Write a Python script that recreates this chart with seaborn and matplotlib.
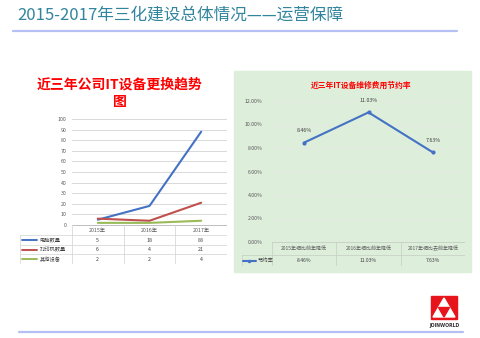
import numpy as np
import pandas as pd
import matplotlib
matplotlib.use("Agg")
import matplotlib.pyplot as plt
import matplotlib.patches as mpatches
import seaborn as sns

# ---- data ----
years = ['2015年', '2016年', '2017年']
series_names = ['电脑数量', '打印机数量', '其他设备']
pc_counts = [5, 18, 88]
printer_counts = [6, 4, 21]
other_counts = [2, 2, 4]
left_yticks = [0, 10, 20, 30, 40, 50, 60, 70, 80, 90, 100]

saving_labels = ['2015年相比前年降低', '2016年相比前年降低', '2017年相比去前年降低']
saving_rates = [0.0846, 0.1103, 0.0763]
saving_name = '节约率'
right_yticks = [0, 0.02, 0.04, 0.06, 0.08, 0.10, 0.12]

page_title = '2015-2017年三化建设总体情况——运营保障'
left_title = '近三年公司IT设备更换趋势\n图'
right_title = '近三年IT设备维修费用节约率'

sns.set_theme(style='white')
plt.rcParams['font.family'] = ['Noto Sans CJK SC', 'DejaVu Sans']

W, H = 480, 338
fig = plt.figure(figsize=(W / 100, H / 100), dpi=100)
fig.patch.set_facecolor('white')


def px(x0, y0, x1, y1):
    # pixel box (top-left origin) -> figure fraction rect
    return [x0 / W, 1 - y1 / H, (x1 - x0) / W, (y1 - y0) / H]


def fx(x):
    return x / W


def fy(y):
    return 1 - y / H


grid_c = '#d9d9d9'
tick_c = '#595959'
colors = ['#4472C4', '#C0504D', '#9BBB59']

# ---- page decorations ----
fig.text(fx(17), fy(15), page_title, fontsize=12, color='#31859C', va='center', ha='left')
fig.add_artist(plt.Line2D([fx(13), fx(457)], [fy(31), fy(31)], color='#b4c0f4', lw=1.6))
fig.add_artist(plt.Line2D([fx(19), fx(463)], [fy(332), fy(332)], color='#b4c0f4', lw=1.6))

# logo
fig.add_artist(mpatches.Rectangle((fx(431), fy(319)), fx(26), 23 / H, color='#e8141b'))
fig.add_artist(mpatches.Polygon([(fx(433), fy(317)), (fx(455), fy(317)), (fx(444), fy(298))],
                                color='white'))
fig.add_artist(mpatches.Polygon([(fx(438.5), fy(307.5)), (fx(449.5), fy(307.5)), (fx(444), fy(317))],
                                color='#e8141b'))
fig.text(fx(444), fy(326), 'JOINWORLD', fontsize=3.3, fontweight='bold', color='#333333',
         ha='center', va='center', family='DejaVu Sans')

# ---- left chart ----
df_left = pd.DataFrame({
    'pos': list(range(len(years))) * 3,
    'value': pc_counts + printer_counts + other_counts,
    'series': [s for s in series_names for _ in years],
})

fig.text(fx(120), fy(93), left_title, fontsize=10, fontweight='bold', color='#ff0000',
         ha='center', va='center', linespacing=1.3)

ax1 = fig.add_axes(px(72, 119, 227, 225))
sns.lineplot(data=df_left, x='pos', y='value', hue='series', hue_order=series_names,
             palette=colors, linewidth=1.5, legend=False, ax=ax1)
ax1.set_xlim(-0.5, len(years) - 0.5)
ax1.set_ylim(0, 100)
ax1.set_yticks(left_yticks)
ax1.set_yticklabels([str(v) for v in left_yticks], fontsize=3.8, color=tick_c)
ax1.set_xticks([])
ax1.tick_params(axis='y', length=0, pad=4)
ax1.grid(axis='y', color=grid_c, lw=0.7)
ax1.set_axisbelow(True)
ax1.set_xlabel('')
ax1.set_ylabel('')
for s in ax1.spines.values():
    s.set_visible(False)
ax1.set_facecolor('none')

# data table under left chart
tb1 = fig.add_axes(px(20, 225, 227, 264))
tb1.set_xlim(-1.5, len(years) - 0.5)
tb1.set_ylim(264, 225)
tb1.axis('off')
rows1 = [225, 235.5, 245, 254.5, 264]
tb1.plot([-0.5, 2.5], [rows1[0]] * 2, color='#bfbfbf', lw=0.7)
for r in rows1[1:]:
    tb1.plot([-1.5, 2.5], [r, r], color=grid_c, lw=0.6)
for c in [-0.5, 0.5, 1.5, 2.5]:
    tb1.plot([c, c], [rows1[0], rows1[-1]], color=grid_c, lw=0.6)
tb1.plot([-1.5, -1.5], [rows1[1], rows1[-1]], color=grid_c, lw=0.6)
for i, y in enumerate(years):
    tb1.text(i, (rows1[0] + rows1[1]) / 2, y, fontsize=3.8, color=tick_c, ha='center', va='center')
for k, (name, vals) in enumerate(zip(series_names, [pc_counts, printer_counts, other_counts])):
    yc = (rows1[k + 1] + rows1[k + 2]) / 2
    tb1.plot([-1.46, -1.17], [yc, yc], color=colors[k], lw=1.4)
    tb1.text(-1.12, yc, name, fontsize=3.8, color='#404040', ha='left', va='center')
    for i, v in enumerate(vals):
        tb1.text(i, yc, str(v), fontsize=3.8, color='#404040', ha='center', va='center')

# ---- right chart ----
fig.add_artist(mpatches.Rectangle((fx(234), fy(272)), fx(237), (272 - 71) / H,
                                  color='#ddeedb', zorder=0))
fig.text(fx(361), fy(85), right_title, fontsize=5.6, fontweight='bold', color='#ff0000',
         ha='center', va='center')

df_right = pd.DataFrame({'pos': list(range(len(saving_labels))), 'rate': saving_rates})
ax2 = fig.add_axes(px(272, 101, 465, 242))
sns.lineplot(data=df_right, x='pos', y='rate', color='#4472C4', linewidth=1.5,
             marker='o', markersize=3, markeredgewidth=0, ax=ax2)
for i, v in enumerate(saving_rates):
    ax2.annotate(f'{v:.2%}', (i, v), xytext=(0, 7), textcoords='offset points',
                 ha='center', va='bottom', fontsize=3.8, color='#404040')
ax2.set_xlim(-0.5, len(saving_labels) - 0.5)
ax2.set_ylim(0, 0.12)
ax2.set_yticks(right_yticks)
ax2.set_yticklabels([f'{v:.2%}' for v in right_yticks], fontsize=3.7, color=tick_c)
ax2.set_xticks([])
ax2.tick_params(axis='y', length=0, pad=7)
ax2.grid(axis='y', color='#e4e9e2', lw=0.7)
ax2.set_axisbelow(True)
ax2.set_xlabel('')
ax2.set_ylabel('')
for s in ax2.spines.values():
    s.set_visible(False)
ax2.set_facecolor('none')

# data table under right chart
leg_w = 30 / 64.33
tb2 = fig.add_axes(px(242, 242, 465, 266))
tb2.set_xlim(-0.5 - leg_w, len(saving_labels) - 0.5)
tb2.set_ylim(266, 242)
tb2.axis('off')
rows2 = [242, 255, 266]
tb2.plot([-0.5, 2.5], [rows2[0]] * 2, color='#c8d4c6', lw=0.7)
for r in rows2[1:]:
    tb2.plot([-0.5 - leg_w, 2.5], [r, r], color='#c8d4c6', lw=0.6)
for c in [-0.5, 0.5, 1.5, 2.5]:
    tb2.plot([c, c], [rows2[0], rows2[-1]], color='#c8d4c6', lw=0.6)
tb2.plot([-0.5 - leg_w] * 2, [rows2[1], rows2[-1]], color='#c8d4c6', lw=0.6)
for i, lab in enumerate(saving_labels):
    tb2.text(i, (rows2[0] + rows2[1]) / 2, lab, fontsize=3.6, color=tick_c, ha='center', va='center')
yc = (rows2[1] + rows2[2]) / 2
tb2.plot([-0.5 - leg_w + 0.02, -0.5 - leg_w + 0.21], [yc, yc], color='#4472C4', lw=1.5)
tb2.plot([-0.5 - leg_w + 0.115], [yc], marker='o', markersize=2.5, color='#4472C4', mew=0)
tb2.text(-0.5 - leg_w + 0.24, yc, saving_name, fontsize=3.8, color='#404040', ha='left', va='center')
for i, v in enumerate(saving_rates):
    tb2.text(i, yc, f'{v:.2%}', fontsize=3.6, color='#404040', ha='center', va='center')

fig.savefig('out.png', dpi=100)
